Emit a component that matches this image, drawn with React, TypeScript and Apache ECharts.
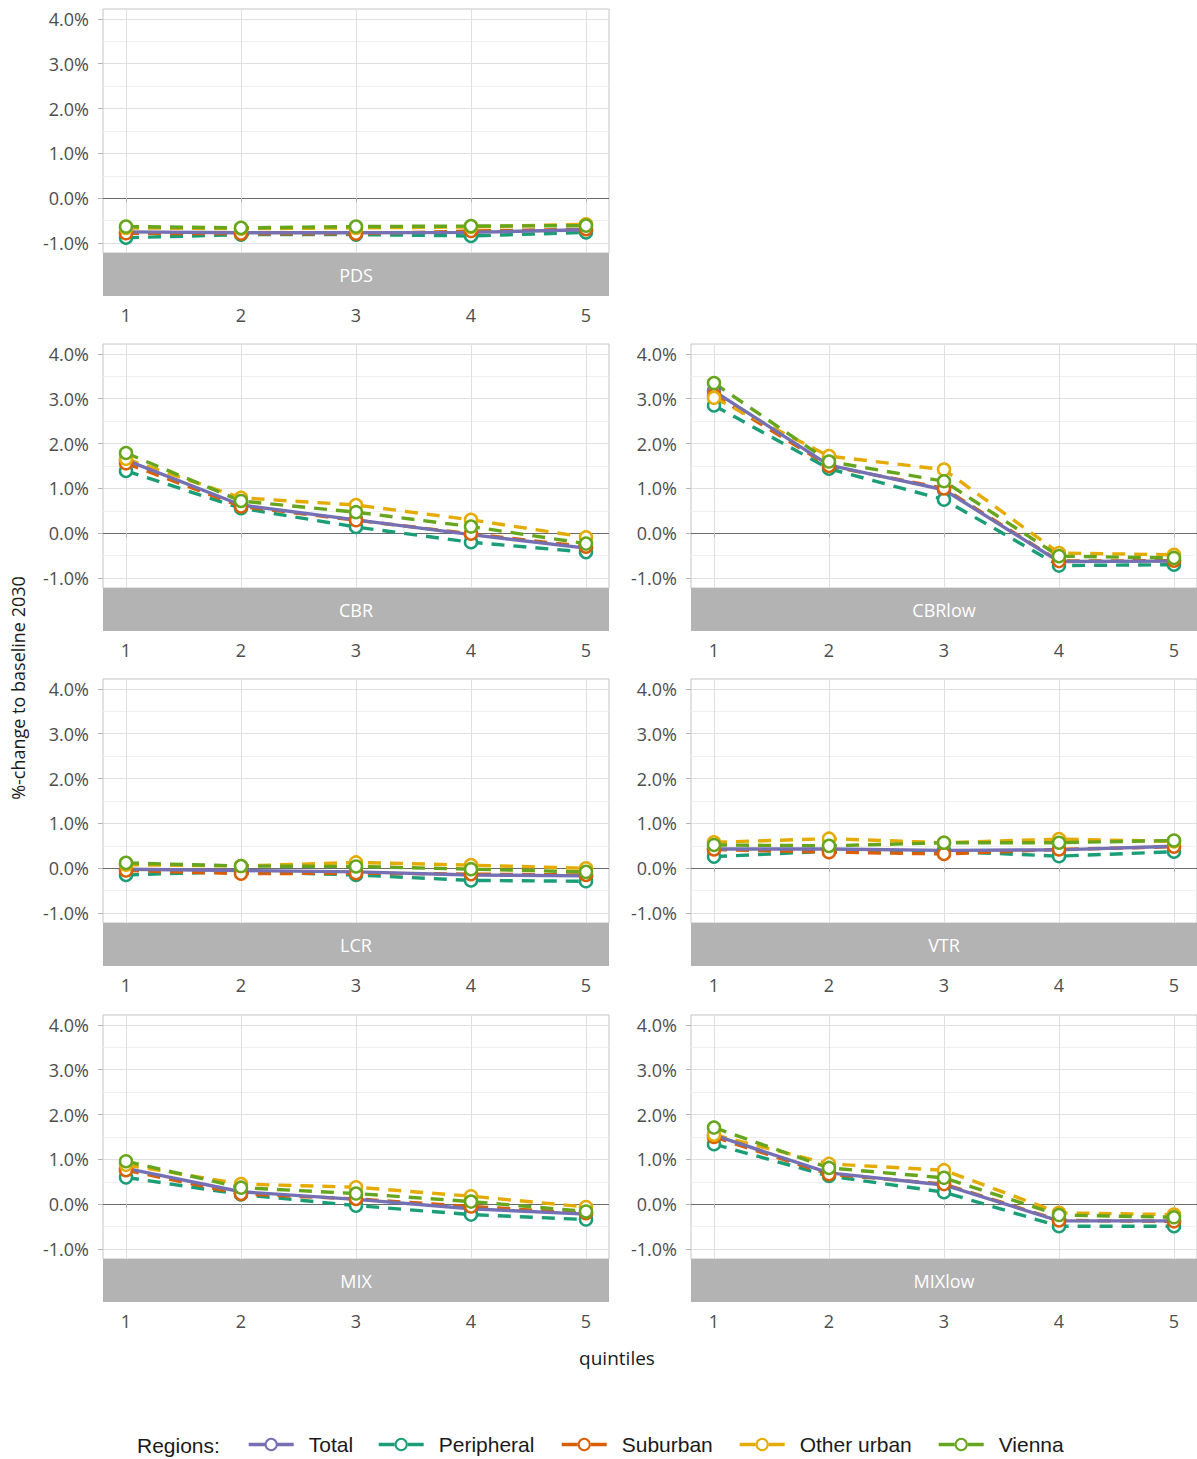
import React, { useEffect, useRef } from "react";
import * as echarts from "echarts";

// ---------- data ----------
const quintiles = [1, 2, 3, 4, 5];
const regions = ["Total", "Peripheral", "Suburban", "Other urban", "Vienna"];
const regionColors = ["#7570B3", "#1B9E77", "#D95F02", "#E6AB02", "#66A61E"];
const lineOrder = [1, 2, 3, 4, 0]; // Total line on top of the dashed lines
const pointOrder = [0, 1, 2, 3, 4]; // points drawn after all lines
const yTickValues = [-1, 0, 1, 2, 3, 4];
const yGridValues = [-1, -0.5, 0, 0.5, 1, 1.5, 2, 2.5, 3, 3.5, 4];

// PDS
const pdsTotal = [-0.75, -0.77, -0.77, -0.76, -0.7];
const pdsPeripheral = [-0.88, -0.81, -0.81, -0.84, -0.76];
const pdsSuburban = [-0.78, -0.79, -0.79, -0.73, -0.69];
const pdsOtherUrban = [-0.66, -0.68, -0.66, -0.64, -0.58];
const pdsVienna = [-0.63, -0.66, -0.63, -0.62, -0.61];
// CBR
const cbrTotal = [1.63, 0.63, 0.3, -0.03, -0.33];
const cbrPeripheral = [1.39, 0.56, 0.14, -0.2, -0.42];
const cbrSuburban = [1.56, 0.6, 0.29, -0.01, -0.3];
const cbrOtherUrban = [1.66, 0.79, 0.63, 0.3, -0.09];
const cbrVienna = [1.79, 0.72, 0.47, 0.15, -0.23];
// CBRlow
const cbrlowTotal = [3.17, 1.52, 0.97, -0.63, -0.62];
const cbrlowPeripheral = [2.85, 1.44, 0.75, -0.72, -0.7];
const cbrlowSuburban = [3.08, 1.5, 1.0, -0.62, -0.61];
const cbrlowOtherUrban = [3.02, 1.72, 1.42, -0.44, -0.48];
const cbrlowVienna = [3.35, 1.6, 1.16, -0.51, -0.55];
// LCR
const lcrTotal = [-0.02, -0.05, -0.08, -0.15, -0.17];
const lcrPeripheral = [-0.15, -0.07, -0.15, -0.27, -0.29];
const lcrSuburban = [-0.05, -0.12, -0.11, -0.13, -0.15];
const lcrOtherUrban = [0.08, 0.05, 0.13, 0.07, 0.0];
const lcrVienna = [0.12, 0.05, 0.04, -0.02, -0.08];
// VTR
const vtrTotal = [0.43, 0.43, 0.4, 0.41, 0.49];
const vtrPeripheral = [0.26, 0.38, 0.38, 0.27, 0.37];
const vtrSuburban = [0.42, 0.36, 0.32, 0.42, 0.48];
const vtrOtherUrban = [0.58, 0.66, 0.57, 0.65, 0.6];
const vtrVienna = [0.52, 0.5, 0.57, 0.57, 0.62];
// MIX
const mixTotal = [0.8, 0.28, 0.11, -0.1, -0.22];
const mixPeripheral = [0.6, 0.22, -0.03, -0.23, -0.34];
const mixSuburban = [0.76, 0.23, 0.12, -0.05, -0.2];
const mixOtherUrban = [0.88, 0.45, 0.38, 0.18, -0.06];
const mixVienna = [0.96, 0.37, 0.24, 0.06, -0.16];
// MIXlow
const mixlowTotal = [1.54, 0.7, 0.43, -0.37, -0.37];
const mixlowPeripheral = [1.34, 0.63, 0.27, -0.49, -0.49];
const mixlowSuburban = [1.5, 0.67, 0.45, -0.36, -0.38];
const mixlowOtherUrban = [1.55, 0.9, 0.76, -0.19, -0.23];
const mixlowVienna = [1.71, 0.81, 0.59, -0.24, -0.29];

const panels = [
  { name: "PDS", row: 0, col: 0, values: [pdsTotal, pdsPeripheral, pdsSuburban, pdsOtherUrban, pdsVienna] },
  { name: "CBR", row: 1, col: 0, values: [cbrTotal, cbrPeripheral, cbrSuburban, cbrOtherUrban, cbrVienna] },
  { name: "CBRlow", row: 1, col: 1, values: [cbrlowTotal, cbrlowPeripheral, cbrlowSuburban, cbrlowOtherUrban, cbrlowVienna] },
  { name: "LCR", row: 2, col: 0, values: [lcrTotal, lcrPeripheral, lcrSuburban, lcrOtherUrban, lcrVienna] },
  { name: "VTR", row: 2, col: 1, values: [vtrTotal, vtrPeripheral, vtrSuburban, vtrOtherUrban, vtrVienna] },
  { name: "MIX", row: 3, col: 0, values: [mixTotal, mixPeripheral, mixSuburban, mixOtherUrban, mixVienna] },
  { name: "MIXlow", row: 3, col: 1, values: [mixlowTotal, mixlowPeripheral, mixlowSuburban, mixlowOtherUrban, mixlowVienna] },
];

// ---------- layout ----------
const W = 1197;
const H = 1459;
const colLeft = [103, 691];
const rowTop = [9, 344, 679, 1015];
const plotW = 506;
const plotH = 244;
const stripH = 43;
const Y_MIN = -1.22;
const Y_MAX = 4.22;
const FONT = "'Open Sans', 'Noto Sans', sans-serif";
const LEGEND_FONT = "'Liberation Sans', Arial, sans-serif";
const LINE_W = 3.4;
const DASH = [13, 9];
const LEGEND_DASH = [16, 13];
const legendLefts = [242, 372, 555, 733, 932];

function buildOption() {
  const grid: any[] = [];
  const xAxis: any[] = [];
  const yAxis: any[] = [];
  const lineSeries: any[] = [];
  const pointSeries: any[] = [];
  const graphic: any[] = [];

  const gridColors = yGridValues.map((v) =>
    v === 0 ? "#6a6a6a" : Number.isInteger(v) ? "#e0e0e0" : "#efefef"
  );

  panels.forEach((p, i) => {
    const left = colLeft[p.col];
    const top = rowTop[p.row];
    grid.push({
      left,
      top,
      width: plotW,
      height: plotH,
      show: true,
      borderColor: "#c4c4c4",
      borderWidth: 1,
      backgroundColor: "transparent",
    });
    xAxis.push({
      gridIndex: i,
      type: "value",
      min: 0.8,
      max: 5.2,
      offset: stripH,
      axisLine: { show: false },
      axisTick: {
        show: true,
        length: 4,
        customValues: quintiles,
        lineStyle: { color: "#b3b3b3" },
      },
      axisLabel: {
        customValues: quintiles,
        margin: 10,
        fontSize: 18,
        color: "#4d4d4d",
        fontFamily: FONT,
      },
      splitLine: { show: true, lineStyle: { color: "#e0e0e0", width: 1 } },
    });
    yAxis.push({
      gridIndex: i,
      type: "value",
      min: Y_MIN,
      max: Y_MAX,
      axisLine: { show: false },
      axisTick: { show: false, customValues: yGridValues },
      axisLabel: { show: false },
      splitLine: { show: true, lineStyle: { color: gridColors, width: 1 } },
    });
    yAxis.push({
      gridIndex: i,
      type: "value",
      position: "left",
      min: Y_MIN,
      max: Y_MAX,
      axisLine: { show: false },
      axisTick: {
        show: true,
        length: 5,
        customValues: yTickValues,
        lineStyle: { color: "#b3b3b3" },
      },
      axisLabel: {
        customValues: yTickValues,
        margin: 14,
        fontSize: 18,
        color: "#4d4d4d",
        fontFamily: FONT,
        formatter: (v: number) => v.toFixed(1) + "%",
      },
      splitLine: { show: false },
    });

    lineOrder.forEach((r) => {
      const vals = p.values[r];
      lineSeries.push({
        name: regions[r],
        type: "line",
        xAxisIndex: i,
        yAxisIndex: 2 * i,
        data: quintiles.map((q, k) => [q, vals[k]]),
        symbol: "circle",
        symbolSize: 12,
        showSymbol: false,
        z: 2,
        lineStyle: {
          color: regionColors[r],
          width: LINE_W,
          type: r === 0 ? "solid" : DASH,
        },
        itemStyle: {
          color: "#ffffff",
          borderColor: regionColors[r],
          borderWidth: 2.5,
        },
        emphasis: { disabled: true },
        silent: true,
      });
    });
    pointOrder.forEach((r) => {
      const vals = p.values[r];
      pointSeries.push({
        name: regions[r],
        type: "scatter",
        xAxisIndex: i,
        yAxisIndex: 2 * i,
        data: quintiles.map((q, k) => [q, vals[k]]),
        symbol: "circle",
        symbolSize: 12,
        z: 3,
        itemStyle: {
          color: "#ffffff",
          borderColor: regionColors[r],
          borderWidth: 2.5,
          opacity: 1,
        },
        emphasis: { disabled: true },
        silent: true,
      });
    });

    graphic.push({
      type: "rect",
      shape: { x: left, y: top + plotH, width: plotW, height: stripH },
      style: { fill: "#b3b3b3" },
      silent: true,
    });
    graphic.push({
      type: "text",
      x: left + plotW / 2,
      y: top + plotH + stripH / 2,
      style: {
        text: p.name,
        fill: "#ffffff",
        fontSize: 18,
        fontFamily: FONT,
        align: "center",
        verticalAlign: "middle",
      },
      silent: true,
    });
  });

  graphic.push({
    type: "text",
    x: 18,
    y: 688,
    rotation: Math.PI / 2,
    style: {
      text: "%-change to baseline 2030",
      fill: "#1a1a1a",
      fontSize: 18,
      fontFamily: FONT,
      align: "center",
      verticalAlign: "middle",
    },
    silent: true,
  });
  graphic.push({
    type: "text",
    x: 617,
    y: 1358,
    style: {
      text: "quintiles",
      fill: "#1a1a1a",
      fontSize: 19,
      fontFamily: FONT,
      align: "center",
      verticalAlign: "middle",
    },
    silent: true,
  });
  graphic.push({
    type: "text",
    x: 137,
    y: 1445,
    style: {
      text: "Regions:",
      fill: "#1a1a1a",
      fontSize: 21,
      fontFamily: LEGEND_FONT,
      align: "left",
      verticalAlign: "middle",
    },
    silent: true,
  });

  const legend = regions.map((name, r) => ({
    left: legendLefts[r],
    top: 1429,
    itemWidth: 45,
    itemHeight: 14,
    selectedMode: false,
    data: [name],
    lineStyle: { width: LINE_W, type: r === 0 ? "solid" : LEGEND_DASH },
    textStyle: {
      fontSize: 21,
      fontFamily: LEGEND_FONT,
      color: "#1a1a1a",
      padding: [0, 0, 0, 10],
    },
  }));

  return {
    animation: false,
    backgroundColor: "#ffffff",
    grid,
    xAxis,
    yAxis,
    series: [...lineSeries, ...pointSeries],
    graphic,
    legend,
  };
}

export default function App() {
  const ref = useRef<HTMLDivElement>(null);
  useEffect(() => {
    document.body.style.margin = "0";
    if (!ref.current) return;
    const chart = echarts.init(ref.current, null, { renderer: "svg" });
    chart.setOption(buildOption() as any);
    return () => chart.dispose();
  }, []);
  return (
    <div
      ref={ref}
      style={{ position: "absolute", left: 0, top: 0, width: W, height: H }}
    />
  );
}
